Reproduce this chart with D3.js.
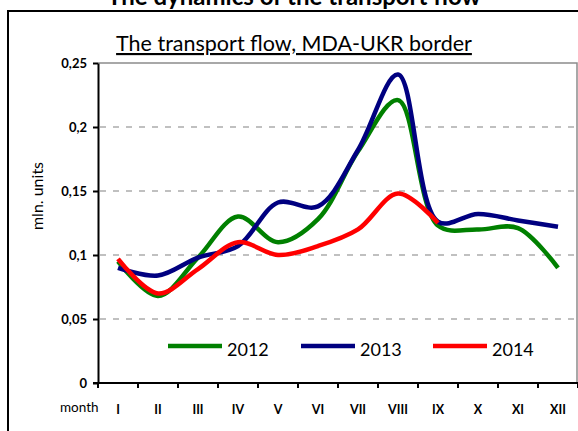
<!DOCTYPE html>
<html>
<head>
<meta charset="utf-8">
<script src="https://cdn.jsdelivr.net/npm/d3@7"></script>
<style>
  body { margin: 0; background: #fff; }
  svg { display: block; font-family: Lato, "Open Sans", sans-serif; }
</style>
</head>
<body>
<div id="chart"></div>
<script>
var months = ["I", "II", "III", "IV", "V", "VI", "VII", "VIII", "IX", "X", "XI", "XII"];
var years = ["2012", "2013", "2014"];
var colors = ["#008000", "#000080", "#ff0000"];
var v2012 = [0.095, 0.068, 0.098, 0.130, 0.110, 0.128, 0.181, 0.221, 0.123, 0.120, 0.121, 0.090];
var v2013 = [0.090, 0.084, 0.098, 0.107, 0.141, 0.138, 0.182, 0.241, 0.126, 0.132, 0.127, 0.122];
var v2014 = [0.097, 0.070, 0.089, 0.110, 0.100, 0.107, 0.120, 0.148, 0.125];
var yTicks = [0, 0.05, 0.1, 0.15, 0.2, 0.25];

var width = 578, height = 431,
    margin = {top: 63, right: 0, bottom: 48, left: 98};

var svg = d3.select("#chart").append("svg")
  .attr("width", width)
  .attr("height", height);

// outer frame (cut at right and bottom)
svg.append("path")
  .attr("d", "M8," + height + "V11H" + width)
  .style("fill", "none")
  .style("stroke", "black")
  .style("stroke-width", 2);

svg.append("text")
  .attr("x", 294)
  .attr("y", 5)
  .attr("text-anchor", "middle")
  .style("font-size", "24px")
  .style("font-weight", "bold")
  .text("The dynamics of the transport flow");

svg.append("text")
  .attr("x", 294)
  .attr("y", 51)
  .attr("text-anchor", "middle")
  .style("font-size", "21.5px")
  .style("text-decoration", "underline")
  .text("The transport flow, MDA-UKR border");

var x = d3.scaleBand()
  .domain(months)
  .range([margin.left, width])
  .padding(0);

var y = d3.scaleLinear()
  .domain([0, 0.25])
  .range([height - margin.bottom, margin.top]);

var fmt = d3.formatLocale({decimal: ",", thousands: " ", grouping: [3], currency: ["", ""]}).format(".2~f");

// grid
svg.selectAll(".grid")
  .data(yTicks.filter(d => d > 0 && d < 0.25))
  .enter()
  .append("line")
  .attr("x1", margin.left + 2)
  .attr("x2", width)
  .attr("y1", d => y(d))
  .attr("y2", d => y(d))
  .style("stroke", "#c0c0c0")
  .style("stroke-width", 2)
  .style("stroke-dasharray", "6,7");

// plot area border top + right
svg.append("path")
  .attr("d", "M" + margin.left + "," + y(0.25) + "H" + (width - 1) + "V" + y(0))
  .style("fill", "none")
  .style("stroke", "#8c8c8c")
  .style("stroke-width", 1.5);

// y axis
var yAxis = svg.append("g")
  .attr("transform", "translate(" + margin.left + ",0)")
  .call(d3.axisLeft(y).tickValues(yTicks).tickFormat(fmt).tickSize(5).tickSizeOuter(0));
yAxis.select(".domain").style("stroke-width", 2);
yAxis.selectAll(".tick line").style("stroke-width", 2);
yAxis.selectAll("text")
  .attr("x", -11)
  .style("font-size", "13px")
  .style("font-weight", "bold")
  .style("font-family", "Lato, sans-serif");

// x axis line and ticks between categories
svg.append("line")
  .attr("x1", margin.left - 5)
  .attr("x2", width)
  .attr("y1", y(0))
  .attr("y2", y(0))
  .style("stroke", "black")
  .style("stroke-width", 2);

var bounds = months.map(m => x(m)).concat([x(months[months.length - 1]) + x.bandwidth()]);
svg.selectAll(".xtick")
  .data(bounds)
  .enter()
  .append("line")
  .attr("x1", d => d)
  .attr("x2", d => d)
  .attr("y1", y(0))
  .attr("y2", y(0) + 5)
  .style("stroke", "black")
  .style("stroke-width", 2);

svg.selectAll(".xlabel")
  .data(months)
  .enter()
  .append("text")
  .attr("x", d => x(d) + x.bandwidth() / 2)
  .attr("y", 414)
  .attr("text-anchor", "middle")
  .style("font-size", "12.5px")
  .style("font-weight", "bold")
  .text(d => d);

svg.append("text")
  .attr("x", 60)
  .attr("y", 412)
  .style("font-size", "13.5px")
  .text("month");

svg.append("text")
  .attr("transform", "translate(43,196) rotate(-90)")
  .attr("text-anchor", "middle")
  .style("font-size", "16px")
  .text("mln. units");

// lines (smoothed like the spreadsheet curves)
var line = d3.line()
  .x((d, i) => x(months[i]) + x.bandwidth() / 2)
  .y(d => y(d))
  .curve(d3.curveCatmullRom.alpha(0.5));

[v2012, v2013, v2014].forEach(function(vals, k) {
  svg.append("path")
    .datum(vals)
    .attr("d", line)
    .style("fill", "none")
    .style("stroke", colors[k])
    .style("stroke-width", 4.5)
    .style("stroke-linejoin", "round");
});

// legend
var legendX = [168, 301, 433];
var lg = svg.selectAll(".legend")
  .data(years)
  .enter()
  .append("g")
  .attr("transform", (d, i) => "translate(" + legendX[i] + ",346)");
lg.append("line")
  .attr("x1", 0)
  .attr("x2", 54)
  .style("stroke", (d, i) => colors[i])
  .style("stroke-width", 4.5);
lg.append("text")
  .attr("x", 59)
  .attr("y", 10)
  .style("font-size", "18px")
  .text(d => d);
</script>
</body>
</html>
